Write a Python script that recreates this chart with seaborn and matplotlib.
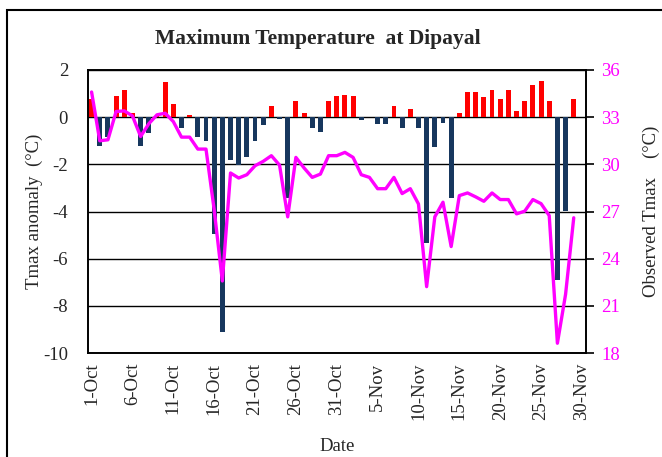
import numpy as np
import pandas as pd
import matplotlib
matplotlib.use("Agg")
import matplotlib.pyplot as plt
from matplotlib.patches import Rectangle
import seaborn as sns

# ---- data ----
dates = pd.date_range("2000-10-01", "2000-11-29", freq="D")
anomaly = [0.76, -1.24, -0.82, 0.90, 1.15, 0.17, -1.24, -0.68, 0.10, 1.49,
           0.56, -0.44, 0.10, -0.82, -1.03, -4.94, -9.13, -1.83, -2.01, -1.70,
           -1.03, -0.32, 0.49, -0.08, -3.42, 0.69, 0.17, -0.44, -0.65, 0.69,
           0.90, 0.96, 0.90, -0.10, 0.00, -0.30, -0.30, 0.49, -0.44, 0.35,
           -0.44, -5.32, -1.28, -0.23, -3.42, 0.17, 1.08, 1.08, 0.87, 1.15,
           0.76, 1.15, 0.28, 0.69, 1.35, 1.55, 0.69, -6.90, -3.99, 0.76]
tmax_obs = [34.6, 31.5, 31.56, 33.36, 33.4, 33.08, 31.77, 32.58, 33.15, 33.25,
            32.72, 31.73, 31.73, 30.97, 30.97, 27.12, 22.58, 29.45, 29.13, 29.34,
            29.91, 30.19, 30.55, 29.95, 26.66, 30.44, 29.77, 29.17, 29.38, 30.55,
            30.55, 30.76, 30.44, 29.34, 29.17, 28.45, 28.45, 29.17, 28.14, 28.45,
            27.48, 22.22, 26.66, 27.59, 24.77, 28.01, 28.18, 27.93, 27.65, 28.18,
            27.76, 27.76, 26.85, 27.02, 27.76, 27.5, 26.74, 18.62, 21.73, 26.6]
tick_labels = ["1-Oct", "6-Oct", "11-Oct", "16-Oct", "21-Oct", "26-Oct", "31-Oct",
               "5-Nov", "10-Nov", "15-Nov", "20-Nov", "25-Nov", "30-Nov"]
left_ticks = [2, 0, -2, -4, -6, -8, -10]
right_ticks = [36, 33, 30, 27, 24, 21, 18]

df = pd.DataFrame({"date": dates, "anomaly": anomaly, "tmax": tmax_obs})
df["day"] = np.arange(len(df))
df["sign"] = np.where(df["anomaly"] >= 0, "pos", "neg")

sns.set_style("white")
plt.rcParams["font.family"] = ["Liberation Serif", "DejaVu Serif"]

fig = plt.figure(figsize=(6.62, 4.57), dpi=100)
ax = fig.add_axes([87.5 / 662, 1 - 353 / 457, (586 - 87.5) / 662, (353 - 70) / 457])

for y in left_ticks:
    ax.axhline(y, color="black", lw=1.0, zorder=0.5)

sns.barplot(data=df, x="day", y="anomaly", hue="sign", native_scale=True,
            palette={"pos": "#FF0000", "neg": "#17375E"}, dodge=False,
            width=0.6, linewidth=0, saturation=1, legend=False, ax=ax)
for p in ax.patches:
    p.set_zorder(2)
    p.set_edgecolor("none")

ax.set_xlim(-0.5, 60.5)
ax.set_ylim(-10, 2)
ax.set_yticks(left_ticks)
ax.set_yticklabels([str(t) for t in left_ticks], fontsize=13.5)
ax.set_xticks(np.arange(0, 61, 5))
ax.set_xticklabels(tick_labels, rotation=90, fontsize=13.5)
ax.tick_params(axis="both", length=0)
ax.tick_params(axis="y", pad=14)
ax.tick_params(axis="x", pad=7)
ax.set_xlabel("Date", fontsize=13.5, labelpad=13)
ax.set_ylabel("Tmax anomaly  (°C)", fontsize=13.5, labelpad=0)
for s in ax.spines.values():
    s.set_color("black")
    s.set_linewidth(1.2)

ax2 = ax.twinx()
sns.lineplot(data=df, x="day", y="tmax", color="#FF00FF", lw=2.4, ax=ax2, zorder=3)
ax2.set_ylim(18, 36)
ax2.set_yticks(right_ticks)
ax2.set_yticklabels([str(t) for t in right_ticks], fontsize=13.5, color="#FF00FF")
ax2.tick_params(axis="y", length=6, width=1.2, color="black", direction="out", pad=5)
ax2.set_ylabel("Observed Tmax    (°C)", fontsize=13.5, labelpad=16)
ax2.set_xlim(-0.5, 60.5)
for s in ax2.spines.values():
    s.set_color("black")
    s.set_linewidth(1.2)

fig.text(318 / 662, 1 - 39 / 457, "Maximum Temperature  at Dipayal",
         ha="center", va="center", fontsize=15.5, fontweight="bold")

fig.patches.append(Rectangle((7 / 662, -0.02), 1.0, 1 - 10 / 457 + 0.02,
                             transform=fig.transFigure, fill=False,
                             edgecolor="black", lw=1.5))

fig.savefig("out.png", dpi=100)
